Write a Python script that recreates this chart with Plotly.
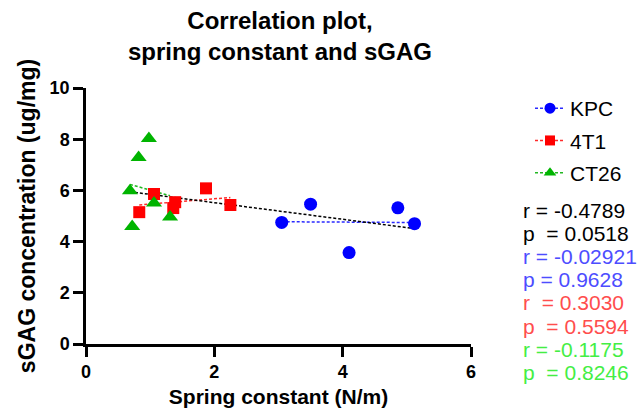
import numpy as np
import plotly.graph_objects as go

# Data
kpc_x = [3.05, 3.50, 4.10, 4.86, 5.12]
kpc_y = [4.75, 5.46, 3.57, 5.32, 4.70]
t41_x = [0.83, 1.06, 1.39, 1.36, 1.87, 2.25]
t41_y = [5.15, 5.86, 5.54, 5.31, 6.08, 5.43]
ct_x = [0.685, 0.82, 0.98, 0.72, 1.06, 1.31]
ct_y = [5.99, 7.29, 8.03, 4.59, 5.51, 4.96]

series_names = ["KPC", "4T1", "CT26"]
marker_colors = ["#0000ff", "#ff0000", "#00b400"]
line_colors = ["#2a2aff", "#ff2a2a", "#22b822"]
symbols = ["circle", "square", "triangle-up"]
marker_sizes = [13, 12, 14]
legend_marker_sizes = [11, 10, 11]

stat_lines = ["r = -0.4789", "p  = 0.0518", "r = -0.02921", "p = 0.9628",
              "r  = 0.3030", "p  = 0.5594", "r = -0.1175", "p  = 0.8246"]
stat_colors = ["#000000", "#000000", "#4d4dff", "#4d4dff",
               "#ff4d4d", "#ff4d4d", "#44ee44", "#44ee44"]

FONT = "Arial, Liberation Sans, sans-serif"
L, R, T, B = 86, 168, 88, 71
W, H = 639, 417
pw, ph = W - L - R, H - T - B

fig = go.Figure()

groups = [(kpc_x, kpc_y), (t41_x, t41_y), (ct_x, ct_y)]
DASH = "3px,2px"

# group fit lines
for (gx, gy), lc in zip(groups, line_colors):
    gx = np.array(gx); gy = np.array(gy)
    m, b = np.polyfit(gx, gy, 1)
    xs = np.array([gx.min(), gx.max()])
    fig.add_trace(go.Scatter(x=xs, y=m * xs + b, mode="lines",
                             line=dict(color=lc, width=1.5, dash=DASH),
                             showlegend=False, hoverinfo="skip"))

# overall fit
ax = np.array(kpc_x + t41_x + ct_x)
ay = np.array(kpc_y + t41_y + ct_y)
m, b = np.polyfit(ax, ay, 1)
xs = np.array([ax.min(), ax.max()])
fig.add_trace(go.Scatter(x=xs, y=m * xs + b, mode="lines",
                         line=dict(color="#000000", width=1.5, dash=DASH),
                         showlegend=False, hoverinfo="skip"))

# markers
for (gx, gy), name, mc, lc, sym, ms, lms in zip(groups, series_names, marker_colors, line_colors,
                                                 symbols, marker_sizes, legend_marker_sizes):
    fig.add_trace(go.Scatter(x=gx, y=gy, mode="markers", name=name,
                             marker=dict(color=mc, symbol=sym, size=ms),
                             showlegend=False))
    # legend entry
    fig.add_trace(go.Scatter(x=[None], y=[None], mode="lines+markers", name=name,
                             legendgroup=name,
                             marker=dict(color=mc, symbol=sym, size=lms),
                             line=dict(color=lc, width=1.5, dash=DASH)))

for i, (txt, col) in enumerate(zip(stat_lines, stat_colors)):
    py = 211 + i * 23.4
    fig.add_annotation(xref="paper", yref="paper", x=(521 - L) / pw, y=(H - B - py) / ph,
                       xanchor="left", yanchor="middle", text=txt, showarrow=False,
                       font=dict(family=FONT, size=21, color=col))

# title
fig.add_annotation(xref="paper", yref="paper", x=(280 - L) / pw, y=(H - B - 36) / ph,
                   xanchor="center", yanchor="middle", showarrow=False,
                   text="<b>Correlation plot,<br>spring constant and sGAG</b>",
                   font=dict(family=FONT, size=24, color="black"))

axis_common = dict(showline=True, linecolor="black", linewidth=2.5, ticks="outside",
                   ticklen=10, tickwidth=2.5, tickcolor="black", showgrid=False, zeroline=False,
                   tickfont=dict(family=FONT, size=18, color="black", weight="bold"),
                   mirror=False)

fig.update_layout(
    width=W, height=H, margin=dict(l=L, r=R, t=T, b=B),
    paper_bgcolor="white", plot_bgcolor="white",
    xaxis=dict(range=[0, 6], tickvals=[0, 2, 4, 6],
               title=dict(text="<b>Spring constant (N/m)</b>", standoff=8,
                          font=dict(family=FONT, size=21, color="black")),
               **axis_common),
    yaxis=dict(range=[0, 10], tickvals=[0, 2, 4, 6, 8, 10],
               title=dict(text="<b>sGAG concentration (ug/mg)</b>", standoff=8,
                          font=dict(family=FONT, size=23, color="black")),
               **axis_common),
    legend=dict(x=(530 - L) / pw, y=(H - B - 88) / ph, xanchor="left", yanchor="top",
                font=dict(family=FONT, size=21, color="black"),
                tracegroupgap=2, itemwidth=30, bgcolor="rgba(0,0,0,0)"),
)

fig.write_html("out.html")
